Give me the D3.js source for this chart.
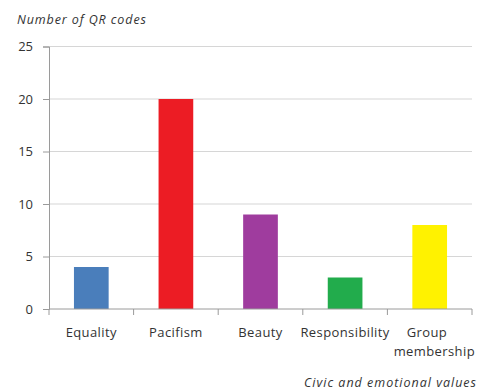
<!DOCTYPE html>
<html>
<head>
<meta charset="utf-8">
<script src="https://cdn.jsdelivr.net/npm/d3@7"></script>
<style>
  html, body { margin: 0; padding: 0; background: #ffffff; }
  svg { display: block; font-family: "Open Sans", "Lato", sans-serif; }
</style>
</head>
<body>
<svg id="chart" width="479" height="392"></svg>
<script>
// Values per category
const categories = ["Equality", "Pacifism", "Beauty", "Responsibility", "Group membership"];
const counts = [4, 20, 9, 3, 8];
const barColors = ["#4a7ebb", "#ec1c24", "#9f3c9e", "#22ac4c", "#fff200"];
const yTicks = [0, 5, 10, 15, 20, 25];

const svg = d3.select("#chart");
const margin = { left: 49, right: 7, top: 46.5, bottom: 83 };
const W = 479, H = 392;

const x = d3.scaleBand()
  .domain(categories)
  .range([margin.left, W - margin.right])
  .paddingInner(0.59)
  .paddingOuter(0.295);

const y = d3.scaleLinear()
  .domain([0, 25])
  .range([H - margin.bottom, margin.top]);

// Horizontal gridlines
svg.append("g")
  .selectAll("line")
  .data(yTicks.filter(d => d > 0))
  .join("line")
  .attr("x1", margin.left)
  .attr("x2", W - margin.right)
  .attr("y1", d => y(d))
  .attr("y2", d => y(d))
  .attr("stroke", "#d6d6d6")
  .attr("stroke-width", 1.2);

// Bars
svg.append("g")
  .selectAll("rect")
  .data(categories)
  .join("rect")
  .attr("x", d => x(d))
  .attr("width", x.bandwidth())
  .attr("y", (d, i) => y(counts[i]))
  .attr("height", (d, i) => y(0) - y(counts[i]))
  .attr("fill", (d, i) => barColors[i]);

// Y axis
const yAxis = svg.append("g")
  .attr("transform", `translate(${margin.left},0)`)
  .call(d3.axisLeft(y).tickValues(yTicks).tickSize(6).tickPadding(10));
yAxis.select(".domain").attr("stroke", "#9a9a9a");
yAxis.selectAll(".tick line").attr("stroke", "#9a9a9a");
yAxis.selectAll(".tick text")
  .attr("font-size", 13)
  .attr("font-family", "Open Sans, sans-serif")
  .attr("fill", "#333");

// X axis with category-boundary tick marks
const xAxisG = svg.append("g")
  .attr("transform", `translate(0,${y(0)})`);
xAxisG.append("line")
  .attr("x1", margin.left).attr("x2", W - margin.right)
  .attr("stroke", "#9a9a9a");
const bounds = d3.range(categories.length + 1).map(i => margin.left + i * (W - margin.right - margin.left) / categories.length);
xAxisG.selectAll(".bt")
  .data(bounds)
  .join("line")
  .attr("class", "bt")
  .attr("x1", d => d).attr("x2", d => d)
  .attr("y1", 0).attr("y2", 6)
  .attr("stroke", "#9a9a9a");

// Category labels (wrap two-word label)
const labelG = svg.append("g");
categories.forEach(c => {
  const cx = x(c) + x.bandwidth() / 2;
  const words = c === "Group membership" ? ["Group", "membership"] : [c];
  const t = labelG.append("text")
    .attr("x", cx)
    .attr("y", y(0) + 28)
    .attr("text-anchor", words.length > 1 ? "start" : "middle")
    .attr("font-size", 13)
    .attr("letter-spacing", 0.4)
    .attr("fill", "#333");
  if (words.length > 1) {
    t.append("tspan").attr("x", cx - 23).attr("dy", 0).text(words[0]);
    t.append("tspan").attr("x", cx - 36).attr("dy", 19).text(words[1]);
  } else {
    t.text(c);
  }
});

// Axis titles
svg.append("text")
  .attr("x", 17)
  .attr("y", 24)
  .attr("font-size", 12.5)
  .attr("font-style", "italic")
  .attr("letter-spacing", 0.9)
  .attr("fill", "#333")
  .text("Number of QR codes");

svg.append("text")
  .attr("x", 477)
  .attr("y", 387)
  .attr("text-anchor", "end")
  .attr("font-size", 12.5)
  .attr("font-style", "italic")
  .attr("letter-spacing", 1.0)
  .attr("fill", "#333")
  .text("Civic and emotional values");
</script>
</body>
</html>
